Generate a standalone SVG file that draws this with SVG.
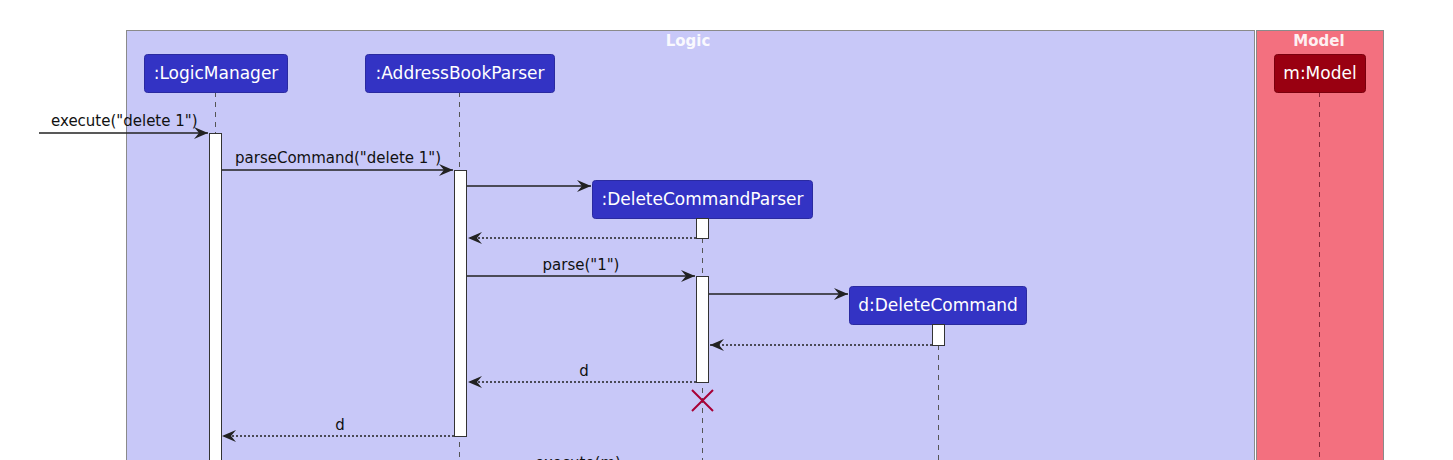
<svg xmlns="http://www.w3.org/2000/svg" width="1453" height="460" viewBox="0 0 1453 460">
<style>
.ttl{font-family:"DejaVu Sans",sans-serif;font-size:15px;font-weight:bold;fill:#fff;text-anchor:middle;opacity:0.9}
.pl{font-family:"DejaVu Sans",sans-serif;font-size:17px;fill:#fff;text-anchor:middle}
.ml{font-family:"DejaVu Sans",sans-serif;font-size:15px;fill:#111}
.pb{fill:#3333C4;stroke:#2a2aa0;stroke-width:1}
.life{stroke:#555;stroke-width:1;stroke-dasharray:5,5;fill:none}
.act{fill:#fff;stroke:#333;stroke-width:1}
.msg{stroke:#222;stroke-width:1.3;fill:none}
.ret{stroke:#222;stroke-width:1.3;fill:none;stroke-dasharray:2,2}
</style>
<defs>
<marker id="ah" viewBox="0 0 14 12" refX="14" refY="6" markerWidth="14" markerHeight="12" markerUnits="userSpaceOnUse" orient="auto">
<path d="M0,0 L14,6 L0,12 L5,6 Z" fill="#222"/>
</marker>
</defs>
<g id="box-logic">
<rect x="126.5" y="30.5" width="1128" height="440" fill="#C8C8F8" stroke="#8a8a8a" stroke-width="1"/>
<text class="ttl" x="688" y="46">Logic</text>
</g>
<g id="box-model">
<rect x="1256.5" y="30.5" width="127" height="440" fill="#F3707F" stroke="#8a8a8a" stroke-width="1"/>
<text class="ttl" x="1319" y="46">Model</text>
</g>
<g id="lifelines">
<line class="life" x1="215.5" y1="92" x2="215.5" y2="460"/>
<line class="life" x1="459.5" y1="92" x2="459.5" y2="460"/>
<line class="life" x1="702.5" y1="238" x2="702.5" y2="460"/>
<line class="life" x1="938.5" y1="345" x2="938.5" y2="460"/>
<line x1="1319.5" y1="92" x2="1319.5" y2="460" stroke="#8a2a3c" stroke-width="1" stroke-dasharray="5,5"/>
</g>
<g id="LogicManager">
<rect class="pb" x="144.5" y="54.5" width="143" height="38" rx="3"/>
<text class="pl" x="216" y="79">:LogicManager</text>
</g>
<g id="AddressBookParser">
<rect class="pb" x="365.5" y="54.5" width="189" height="38" rx="3"/>
<text class="pl" x="460" y="79">:AddressBookParser</text>
</g>
<g id="DeleteCommandParser">
<rect class="pb" x="592.5" y="180.5" width="220" height="38" rx="3"/>
<text class="pl" x="702.5" y="205">:DeleteCommandParser</text>
</g>
<g id="DeleteCommand">
<rect class="pb" x="849.5" y="286.5" width="177" height="38" rx="3"/>
<text class="pl" x="938" y="311">d:DeleteCommand</text>
</g>
<g id="Model">
<rect x="1274.5" y="54.5" width="91" height="38" rx="3" fill="#990011" stroke="#7a000d"/>
<text class="pl" x="1320" y="79">m:Model</text>
</g>
<g id="activations">
<rect class="act" x="209.5" y="133.5" width="12" height="340"/>
<rect class="act" x="454.5" y="170.5" width="12" height="266"/>
<rect class="act" x="696.5" y="218.5" width="12" height="20"/>
<rect class="act" x="696.5" y="276.5" width="12" height="106"/>
<rect class="act" x="932.5" y="324.5" width="12" height="21"/>
</g>
<g id="connectors">
<line class="msg" x1="39" y1="133" x2="208" y2="133" marker-end="url(#ah)"/>
<text class="ml" x="51" y="126">execute("delete 1")</text>
<line class="msg" x1="222" y1="170" x2="453" y2="170" marker-end="url(#ah)"/>
<text class="ml" x="235" y="163">parseCommand("delete 1")</text>
<line class="msg" x1="467" y1="186" x2="591" y2="186" marker-end="url(#ah)"/>
<line class="ret" x1="696" y1="238" x2="468" y2="238" marker-end="url(#ah)"/>
<line class="msg" x1="467" y1="276" x2="695" y2="276" marker-end="url(#ah)"/>
<text class="ml" x="581" y="270" text-anchor="middle">parse("1")</text>
<line class="msg" x1="709" y1="294" x2="848" y2="294" marker-end="url(#ah)"/>
<line class="ret" x1="932" y1="345" x2="710" y2="345" marker-end="url(#ah)"/>
<line class="ret" x1="696" y1="382" x2="468" y2="382" marker-end="url(#ah)"/>
<text class="ml" x="584" y="376" text-anchor="middle">d</text>
<path d="M692,390 L713,411 M713,390 L692,411" stroke="#A80036" stroke-width="2" fill="none"/>
<line class="ret" x1="454" y1="436" x2="222" y2="436" marker-end="url(#ah)"/>
<text class="ml" x="340" y="430" text-anchor="middle">d</text>
<text class="ml" x="578" y="468" text-anchor="middle">execute(m)</text>
</g>
</svg>
